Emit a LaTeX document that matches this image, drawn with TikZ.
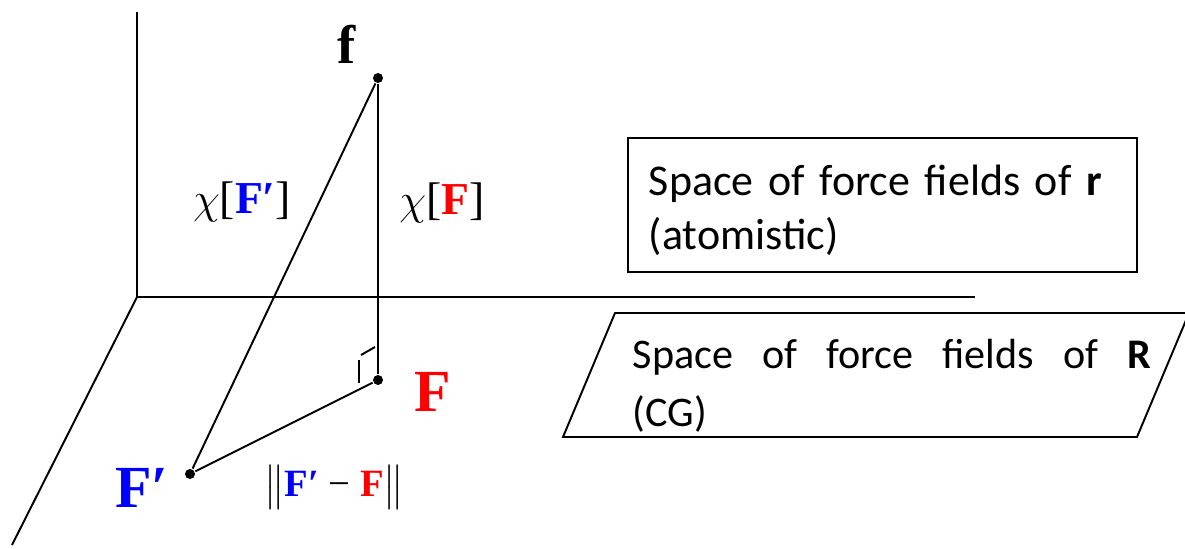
\documentclass[tikz,border=0pt]{standalone}
\usepackage{amsmath}
\usepackage{fontspec}
\usepackage{xcolor}
\usetikzlibrary{calc}
\newfontfamily\tnr{Liberation Serif}
\newfontfamily\cali{Carlito}
\definecolor{ffred}{HTML}{FF0000}
\definecolor{ffblue}{HTML}{0000FF}

\begin{document}
\begin{tikzpicture}[x=0.02cm, y=-0.02cm, line width=1.1pt,
    every node/.style={inner sep=0pt},
    pt/.style={circle, fill=black, minimum size=0.2cm},
    biglbl/.style={font=\tnr\bfseries\fontsize{#1}{#1}\selectfont},
    mathlbl/.style={font=\tnr\fontsize{26}{30}\selectfont},
    spacetxt/.style={font=\cali\fontsize{25}{31}\selectfont}]
  \clip (0,0) rectangle (1185,548);
  % axes
  \coordinate (O) at (137,297);
  \coordinate (up) at (137,12);
  \coordinate (east) at (975,297);
  \coordinate (south) at (12,545);
  \draw (up) -- (O) -- (east);
  \draw (O) -- (south);
  % points and triangle
  \node[pt] (f) at (378,78) {};
  \node[pt] (F) at (378,380) {};
  \node[pt] (Fp) at (190,474) {};
  \draw (f) -- (F);
  \draw (f) -- (Fp);
  \draw (Fp) -- (F);
  \draw ($(F)+(-17,-25)$) -- ($(F)+(-3,-33)$);
  \draw ($(F)+(-19,-20)$) -- ($(F)+(-19,3)$);
  \node[biglbl=31] (flbl) at (347,44) {f};
  \node[biglbl=34, text=ffred] (Flbl) at (433,392) {F};
  \node[biglbl=34, text=ffblue] (Fplbl) at (142,488) {F′};
  \node[mathlbl] (chiFp) at (242,202) {$\chi$[\textbf{\color{ffblue}F′}]};
  \node[mathlbl] (chiF) at (442,203) {$\chi$[\textbf{\color{ffred}F}]};
  \node[font=\tnr\fontsize{22}{30}\selectfont] (dist) at (334,487)
    {$\bigl\|\mbox{\textbf{\color{ffblue}F′} − \textbf{\color{ffred}F}}\bigr\|$};
  % the two spaces
  \coordinate (atomnw) at (628,138);
  \coordinate (atomse) at (1137,272);
  \draw (atomnw) rectangle (atomse);
  \node[spacetxt, text width=9.6cm, align=left, anchor=north west] (atom)
    at (648,164) {Space of force fields of \textbf{r}\\(atomistic)};
  \coordinate (cg1) at (615,313);
  \coordinate (cg2) at (1189,313);
  \coordinate (cg3) at (1137,437);
  \coordinate (cg4) at (563,437);
  \draw (cg1) -- (cg2) -- (cg3) -- (cg4) -- cycle;
  \node[spacetxt, font=\cali\fontsize{24}{33}\selectfont, text width=10.36cm,
    align=justify, anchor=north west] (cg)
    at (632,338) {Space of force fields of \textbf{R}\linebreak (CG)};
\end{tikzpicture}
\end{document}
